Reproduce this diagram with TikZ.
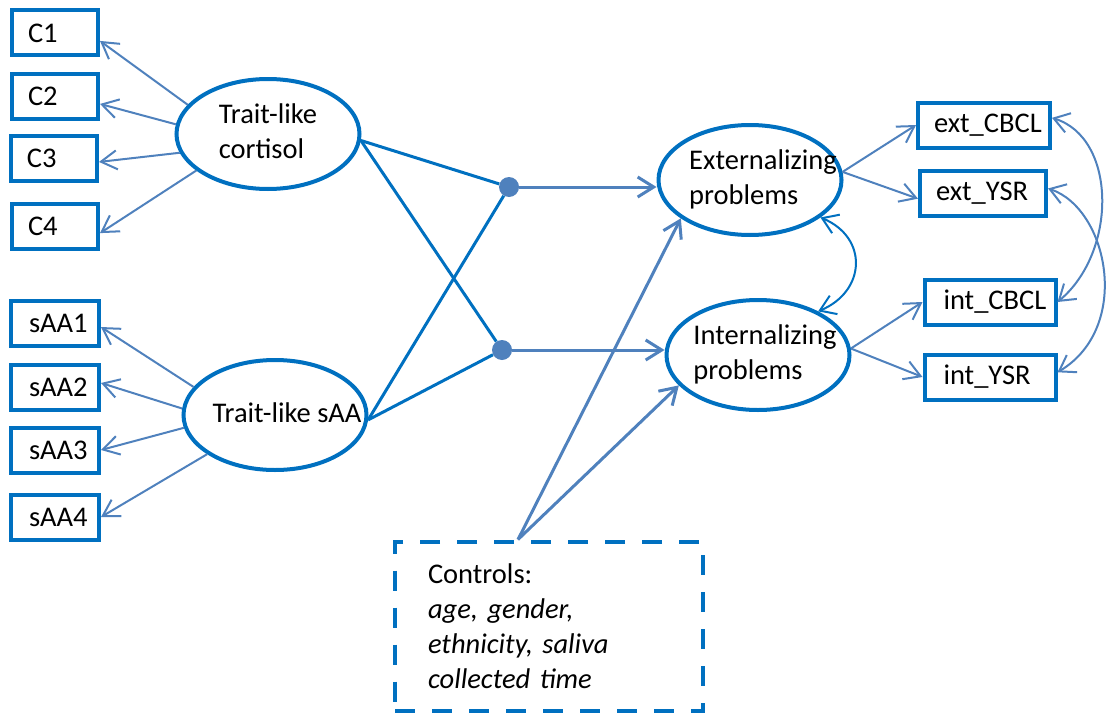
\documentclass[tikz,border=0pt]{standalone}
\usepackage{fontspec}
\setmainfont{Carlito}
\usetikzlibrary{shapes.geometric,arrows.meta}
\definecolor{boxblue}{HTML}{0070C0}
\definecolor{arrblue}{HTML}{4F81BD}
\newcommand{\lattext}[2][0pt]{\makebox[0pt]{\hspace*{#1}\begin{tabular}{@{}l@{}}#2\end{tabular}}}

\begin{document}
\begin{tikzpicture}[x=1pt,y=-1pt,
  every node/.style={font=\fontsize{28.5}{35}\selectfont},
  obs/.style={draw=boxblue, line width=4pt, minimum height=45pt, inner ysep=0pt,
    inner xsep=16pt, align=left, text width=#1},
  latent/.style={ellipse, draw=boxblue, line width=4pt, minimum width=183pt,
    minimum height=110pt, inner sep=0pt},
  ctrlbox/.style={draw=boxblue, line width=4pt, dash pattern=on 20pt off 17pt,
    minimum width=308pt, minimum height=169pt, inner xsep=33pt, text width=242pt, align=left},
  meddot/.style={circle, fill=arrblue, minimum size=20pt, inner sep=0pt},
  load/.style={draw=arrblue, line width=2pt, -{Straight Barb[length=16pt,width=19pt]}},
  reg/.style={draw=arrblue, line width=3pt, -{Straight Barb[length=16pt,width=20pt]}},
  tomed/.style={draw=boxblue, line width=3pt},
  cov/.style={draw=arrblue, line width=2pt,
    {Straight Barb[length=15pt,width=20pt]}-{Straight Barb[length=15pt,width=20pt]}}]
\useasboundingbox (0,0) rectangle (1107,717);

\node[obs=54pt] (c1) at (55,33) {C1};
\node[obs=54pt] (c2) at (55,96) {C2};
\node[obs=54pt] (c3) at (54,158) {C3};
\node[obs=54pt] (c4) at (55,226) {C4};
\node[obs=52pt, inner xsep=18pt] (s1) at (55,323) {sAA1};
\node[obs=52pt, inner xsep=18pt] (s2) at (55,387) {sAA2};
\node[obs=52pt, inner xsep=18pt] (s3) at (55,450) {sAA3};
\node[obs=52pt, inner xsep=18pt] (s4) at (55,517) {sAA4};

\node[latent] (cort) at (268,134) {\lattext{Trait-like\\cortisol}};
\node[latent] (saa) at (275,415) {\lattext[24pt]{Trait-like sAA}};
\node[latent] (ext) at (750,180) {\lattext[26pt]{Externalizing\\problems}};
\node[latent] (int) at (758,355) {\lattext[14pt]{Internalizing\\problems}};

\node[obs=100pt] (ecbcl) at (984,125) {ext\_CBCL};
\node[obs=94pt] (eysr) at (983,193) {ext\_YSR};
\node[obs=93pt, inner xsep=19pt] (icbcl) at (990,302) {int\_CBCL};
\node[obs=93pt, inner xsep=19pt] (iysr) at (990,377) {int\_YSR};

\node[meddot] (m1) at (509,187) {};
\node[meddot] (m2) at (502,350) {};

\node[ctrlbox] (ctrl) at (549,626) {Controls:\\\textit{age, gender,}\\\textit{ethnicity, saliva}\\\textit{collected time}};
\coordinate (cs) at ([xshift=-31pt]ctrl.north);

\draw[load] (cort.160) -- (c1.-10);
\draw[load] (cort.174) -- (c2.-10);
\draw[load] (cort.192) -- (c3.-5);
\draw[load] (cort.207) -- (c4.-9);
\draw[load] (saa.161) -- (s1.-5);
\draw[load] (saa.176) -- (s2.5);
\draw[load] (saa.188) -- (s3.east);
\draw[load] (saa.210) -- (s4.east);

\draw[tomed] (cort.-4) -- (m1);
\draw[tomed] (cort.-4) -- (m2);
\draw[tomed] (saa.-3) -- (m1);
\draw[tomed] (saa.-3) -- (m2);

\draw[reg] (m1) -- (m1 -| ext.west);
\draw[reg] (m2) -- (m2 -| int.west);
\draw[reg] (cs) -- (ext.209);
\draw[reg] (cs) -- (int.201);

\draw[load] (ext.5) -- (ecbcl.west);
\draw[load] (ext.5) -- (eysr.185);
\draw[load] (int.4) -- (icbcl.west);
\draw[load] (int.4) -- (iysr.west);

\draw[cov, draw=boxblue] (ext.-28) .. controls +(48,20) and +(48,-20) .. (int.36);
\draw[cov] (ecbcl.6) .. controls +(65,20) and +(60,-50) .. (icbcl.east);
\draw[cov] (eysr.4) .. controls +(60,20) and +(75,-45) .. (iysr.4);
\end{tikzpicture}
\end{document}
